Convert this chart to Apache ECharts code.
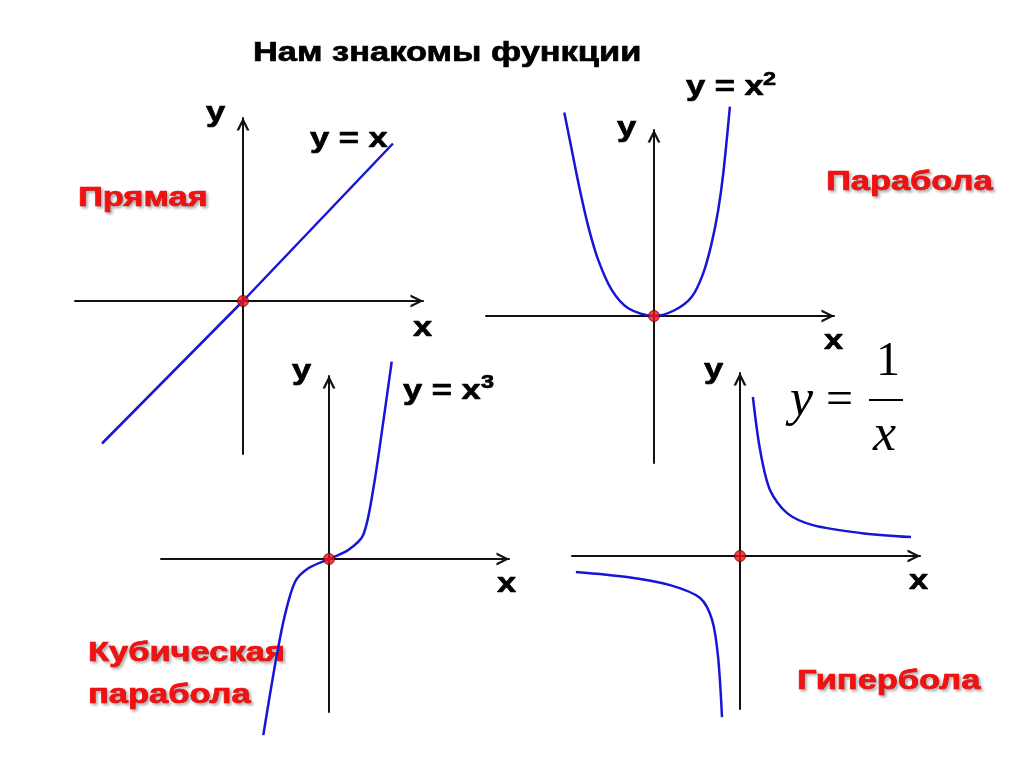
<!DOCTYPE html>
<html>
<head>
<meta charset="utf-8">
<script src="https://cdn.jsdelivr.net/npm/echarts@6/dist/echarts.min.js"></script>
<style>
  html, body { margin: 0; background: #fff; }
  #chart { width: 1024px; height: 767px; }
</style>
</head>
<body>
<div id="chart"></div>
<script>
// y = x
const lineX = [-4.7, 0, 5.0];
const lineY = [-4.75, 0, 5.25];

// y = x^2
const parabolaX = [-2.99, -2.74, -2.47, -2.19, -1.86, -1.41, -0.86, 0, 0.7, 1.26, 1.64, 1.92, 2.14, 2.31, 2.53];
const parabolaY = [6.78, 5.53, 4.2, 2.98, 1.87, 0.87, 0.26, 0, 0.2, 0.64, 1.42, 2.42, 3.53, 4.76, 6.98];

// y = x^3
const cubicX = [-2.19, -1.97, -1.74, -1.47, -1.13, -0.69, 0, 0.64, 1.14, 1.48, 1.81, 2.09];
const cubicY = [-5.87, -4.53, -3.2, -1.87, -0.76, -0.31, 0, 0.3, 0.8, 2.36, 4.58, 6.58];

// y = 1/x
const hypPosX = [0.43, 0.67, 1.0, 1.57, 2.43, 4.0, 5.7];
const hypPosY = [5.3, 3.53, 2.2, 1.43, 1.03, 0.77, 0.63];
const hypNegX = [-5.47, -3.77, -2.33, -1.33, -0.93, -0.73, -0.6];
const hypNegY = [-0.53, -0.7, -0.97, -1.4, -2.13, -3.37, -5.37];

const origin = [[0, 0]];

const pairs = (xs, ys) => xs.map((x, i) => [x, ys[i]]);

// grids, in px
const panels = [
	{ left: 75, top: 118, width: 348, height: 336, yMin: -5.1, yMax: 6.1 },
	{ left: 486, top: 130, width: 348, height: 333, yMin: -4.9, yMax: 6.2 },
	{ left: 161, top: 376, width: 348, height: 336, yMin: -5.1, yMax: 6.1 },
	{ left: 572, top: 373, width: 348, height: 336, yMin: -5.1, yMax: 6.1 },
];

const arrow = "path://M0,10 L5,0 L10,10 L8,10 L5,3.6 L2,10 Z";
const axisLine = {
	onZero: true,
	symbol: ["none", arrow],
	symbolSize: [13, 14],
	symbolOffset: [0, -6],
	lineStyle: { color: "#111", width: 2 },
};

const blue = "#1616d6";
const curve = (idx, data, smooth) => ({
	type: "line",
	xAxisIndex: idx,
	yAxisIndex: idx,
	data: data,
	smooth: smooth,
	showSymbol: false,
	clip: false,
	silent: true,
	lineStyle: { color: blue, width: 2.5 },
});
const dot = (idx) => ({
	type: "scatter",
	xAxisIndex: idx,
	yAxisIndex: idx,
	data: origin,
	symbolSize: 11,
	z: 5,
	itemStyle: { color: "#f01318", borderColor: "#6a0000", borderWidth: 1 },
});

// texts
const sans = (text, x, y, size, color, shadow) => ({
	type: "text",
	x: x,
	y: y,
	scaleX: 1.23,
	style: {
		text: text,
		fill: color || "#000",
		stroke: color || "#000",
		lineWidth: 0.7,
		font: "bold " + size + 'px "Liberation Sans", Arial, sans-serif',
		verticalAlign: "middle",
		textShadowColor: shadow ? "rgba(0,0,0,0.3)" : "transparent",
		textShadowBlur: shadow ? 3 : 0,
		textShadowOffsetX: shadow ? 2 : 0,
		textShadowOffsetY: shadow ? 2 : 0,
	},
});
const serif = (text, x, y, size, italic) => ({
	type: "text",
	x: x,
	y: y,
	style: {
		text: text,
		fill: "#000",
		font: (italic ? "italic " : "") + size + 'px "Liberation Serif", "Times New Roman", serif',
		verticalAlign: "middle",
	},
});
const red = "#f21010";

const chart = echarts.init(document.getElementById("chart"));

chart.setOption({
	backgroundColor: "#fff",
	animation: false,
	grid: panels.map((p) => ({
		left: p.left,
		top: p.top,
		width: p.width,
		height: p.height,
		outerBoundsMode: "none",
	})),
	xAxis: panels.map((p, i) => ({
		type: "value",
		gridIndex: i,
		min: -5.6,
		max: 6.0,
		axisLine: axisLine,
		axisTick: { show: false },
		axisLabel: { show: false },
		splitLine: { show: false },
	})),
	yAxis: panels.map((p, i) => ({
		type: "value",
		gridIndex: i,
		min: p.yMin,
		max: p.yMax,
		axisLine: axisLine,
		axisTick: { show: false },
		axisLabel: { show: false },
		splitLine: { show: false },
	})),
	series: [
		curve(0, pairs(lineX, lineY), false),
		curve(1, pairs(parabolaX, parabolaY), 0.3),
		curve(2, pairs(cubicX, cubicY), 0.3),
		curve(3, pairs(hypPosX, hypPosY), 0.3),
		curve(3, pairs(hypNegX, hypNegY), 0.3),
		dot(0),
		dot(1),
		dot(2),
		dot(3),
	],
	graphic: [
		sans("Нам знакомы функции", 253, 53, 28),
		// прямая
		sans("y", 206, 113, 28),
		sans("y = x", 310, 139, 28),
		sans("x", 413, 328, 28),
		sans("Прямая", 78, 198, 28, red, true),
		// парабола
		sans("y", 617, 128, 28),
		sans("y = x", 686, 87, 28),
		sans("2", 763, 80, 19),
		sans("x", 824, 341, 28),
		sans("Парабола", 826, 182, 28, red, true),
		// кубическая
		sans("y", 292, 371, 28),
		sans("y = x", 403, 391, 28),
		sans("3", 481, 383, 19),
		sans("x", 497, 584, 28),
		sans("Кубическая", 88, 653, 28, red, true),
		sans("парабола", 88, 695, 28, red, true),
		// гипербола
		sans("y", 704, 370, 28),
		sans("x", 909, 581, 28),
		sans("Гипербола", 797, 681, 28, red, true),
		serif("y", 790, 401, 52, true),
		serif("=", 826, 401, 48),
		serif("1", 876, 362, 48),
		{ type: "line", shape: { x1: 869, y1: 400, x2: 903, y2: 400 }, style: { stroke: "#000", lineWidth: 2 } },
		serif("x", 873, 436, 52, true),
	],
});
</script>
</body>
</html>
